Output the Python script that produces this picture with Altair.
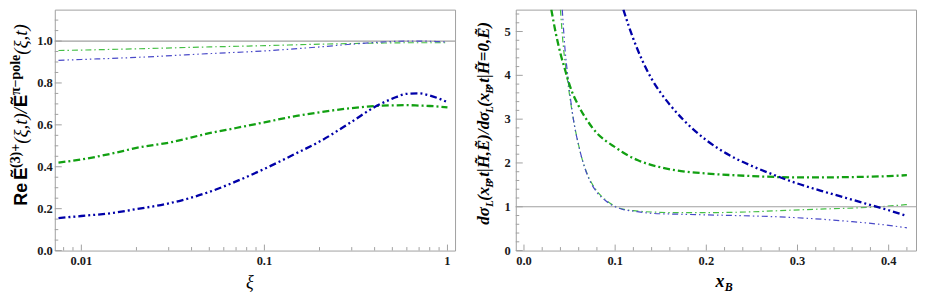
import altair as alt
import pandas as pd

# ---------------- data ----------------
# left panel: Re E^(3)+ / E^pi-pole vs xi (log axis)
xi_thick = [0.0075, 0.01, 0.015, 0.02, 0.03, 0.05, 0.07, 0.1, 0.15, 0.2, 0.3, 0.4, 0.5, 0.6, 0.7, 0.8, 0.9, 1.0]
left_thick_blue = [0.155, 0.165, 0.18, 0.198, 0.225, 0.28, 0.33, 0.39, 0.465, 0.52, 0.615, 0.685, 0.725, 0.748, 0.75, 0.74, 0.725, 0.708]
left_thick_green = [0.42, 0.435, 0.465, 0.49, 0.515, 0.56, 0.585, 0.612, 0.643, 0.66, 0.68, 0.69, 0.693, 0.694, 0.692, 0.69, 0.687, 0.683]
xi_thin = [0.0075, 0.01, 0.02, 0.05, 0.1, 0.2, 0.3, 0.4, 0.5, 0.6, 0.7, 0.8, 0.9, 1.0]
left_thin_blue = [0.908, 0.912, 0.922, 0.94, 0.953, 0.972, 0.985, 0.993, 0.998, 1.0, 1.0, 0.999, 0.997, 0.995]
left_thin_green = [0.955, 0.957, 0.963, 0.972, 0.978, 0.985, 0.988, 0.99, 0.991, 0.992, 0.992, 0.992, 0.992, 0.992]

# right panel: cross-section ratio vs x_B
xb_thick_blue = [0.109, 0.115, 0.12, 0.13, 0.14, 0.15, 0.16, 0.175, 0.2, 0.225, 0.25, 0.275, 0.3, 0.325, 0.35, 0.375, 0.4, 0.42]
right_thick_blue = [5.5, 5.12, 4.83, 4.33, 3.92, 3.6, 3.33, 2.98, 2.52, 2.18, 1.93, 1.72, 1.53, 1.37, 1.22, 1.07, 0.92, 0.79]
xb_thick_green = [0.030, 0.035, 0.04, 0.046, 0.05, 0.06, 0.07, 0.08, 0.09, 0.1, 0.11, 0.125, 0.15, 0.178, 0.2, 0.25, 0.3, 0.325, 0.35, 0.4, 0.42]
right_thick_green = [5.5, 4.95, 4.5, 4.06, 3.78, 3.3, 2.95, 2.68, 2.5, 2.36, 2.22, 2.06, 1.9, 1.8, 1.76, 1.70, 1.67, 1.67, 1.675, 1.7, 1.72]
xb_thin_blue = [0.042, 0.045, 0.048, 0.051, 0.055, 0.06, 0.065, 0.07, 0.08, 0.09, 0.1, 0.11, 0.12, 0.14, 0.17, 0.2, 0.25, 0.29, 0.33, 0.36, 0.39, 0.42]
right_thin_blue = [5.5, 4.6, 4.0, 3.47, 2.9, 2.4, 2.0, 1.7, 1.33, 1.13, 1.0, 0.93, 0.9, 0.85, 0.83, 0.815, 0.79, 0.76, 0.71, 0.66, 0.6, 0.52]
xb_thin_green = [0.040, 0.043, 0.047, 0.05, 0.055, 0.06, 0.065, 0.07, 0.08, 0.09, 0.1, 0.11, 0.12, 0.14, 0.17, 0.2, 0.25, 0.29, 0.33, 0.36, 0.39, 0.42]
right_thin_green = [5.5, 4.7, 4.0, 3.55, 2.9, 2.4, 2.0, 1.72, 1.36, 1.15, 1.01, 0.94, 0.91, 0.88, 0.865, 0.865, 0.885, 0.92, 0.95, 0.97, 1.0, 1.05]

reference_level = [1.0]

# ticks and tick labels
left_y_major = [0.0, 0.2, 0.4, 0.6, 0.8, 1.0]
left_y_labels = ["0.0", "0.2", "0.4", "0.6", "0.8", "1.0"]
left_y_minor = [0.05, 0.1, 0.15, 0.25, 0.3, 0.35, 0.45, 0.5, 0.55, 0.65, 0.7, 0.75, 0.85, 0.9, 0.95, 1.05, 1.1]
left_x_major = [0.01, 0.1, 1.0]
left_x_labels = ["0.01", "0.1", "1"]
left_x_minor = [0.008, 0.009, 0.02, 0.03, 0.04, 0.05, 0.06, 0.07, 0.08, 0.09,
                0.2, 0.3, 0.4, 0.5, 0.6, 0.7, 0.8, 0.9]
right_y_major = [0, 1, 2, 3, 4, 5]
right_y_labels = ["0", "1", "2", "3", "4", "5"]
right_y_minor = [0.2, 0.4, 0.6, 0.8, 1.2, 1.4, 1.6, 1.8, 2.2, 2.4, 2.6, 2.8, 3.2, 3.4, 3.6, 3.8,
                 4.2, 4.4, 4.6, 4.8, 5.2, 5.4]
right_x_major = [0.0, 0.1, 0.2, 0.3, 0.4]
right_x_labels = ["0.0", "0.1", "0.2", "0.3", "0.4"]
right_x_minor = [0.02, 0.04, 0.06, 0.08, 0.12, 0.14, 0.16, 0.18, 0.22, 0.24, 0.26, 0.28,
                 0.32, 0.34, 0.36, 0.38, 0.42]

# ---------------- styling ----------------
W, H = 402, 242
FRAME = "#a0a0a0"
SERIF = "Liberation Serif"
SANS = "Liberation Sans"
STYLE = {
    "thick_blue": dict(color="#0000a8", strokeWidth=2.3, strokeDash=[7, 3, 2, 3, 2, 3]),
    "thick_green": dict(color="#12a012", strokeWidth=2.3, strokeDash=[7, 3, 2, 3]),
    "thin_blue": dict(color="#4a4ac8", strokeWidth=1.2, strokeDash=[6, 3, 1.5, 3, 1.5, 3]),
    "thin_green": dict(color="#46bf46", strokeWidth=1.2, strokeDash=[6, 3, 1.5, 3]),
}

one = alt.Data(values=[{"k": 0}])

# approximate glyph widths (em) for chaining title pieces
WID = {"(": .333, ")": .333, ",": .25, "/": .278, "|": .22, "=": .6, "0": .5, "3": .5, "+": .57,
       "ξ": .46, "t": .28, "x": .444, "d": .5, "σ": .55, "L": .556, "B": .611, "H": .722,
       "E": .611, "Ẽ": .64, "π": .55, "−": .57, "p": .53, "o": .5, "l": .278, "e": .46,
       " ": .25, "R": .722, "\u0303": 0.0}


def tw(text, size):
    return sum(WID.get(c, .5) for c in text) * size


def title_layers(pieces, start, base_x):
    layers = []
    pos = start
    for text, font, size, weight, style, shift in pieces:
        layers.append(
            alt.Chart(one).mark_text(
                text=text, angle=270, align="left", baseline="alphabetic",
                font=font, fontSize=size, fontWeight=weight, fontStyle=style, color="black",
            ).encode(x=alt.value(base_x + shift), y=alt.value(pos))
        )
        pos -= tw(text, size)
    return layers


def curve(xs, ys, key, xscale, yscale):
    df = pd.DataFrame({"x": xs, "y": ys})
    return alt.Chart(df).mark_line(clip=True, interpolate="monotone", strokeCap="butt", **STYLE[key]).encode(
        x=alt.X("x:Q", scale=xscale, axis=None),
        y=alt.Y("y:Q", scale=yscale, axis=None),
    )


def tick_layer(vals, xscale, yscale, which, length):
    df = pd.DataFrame({"v": vals})
    base = alt.Chart(df).mark_rule(color=FRAME, strokeWidth=1)
    if which == "y":
        return base.encode(y=alt.Y("v:Q", scale=yscale, axis=None), x=alt.value(0), x2=alt.value(length))
    return base.encode(x=alt.X("v:Q", scale=xscale, axis=None), y=alt.value(H), y2=alt.value(H - length))


def label_layer(vals, labels, xscale, yscale, which, pad):
    df = pd.DataFrame({"v": vals, "lab": labels})
    if which == "y":
        return alt.Chart(df).mark_text(font=SERIF, fontWeight="bold", fontSize=12.5, color="#1a1a1a",
                                       align="right", baseline="middle").encode(
            y=alt.Y("v:Q", scale=yscale, axis=None), x=alt.value(-pad), text="lab:N")
    return alt.Chart(df).mark_text(font=SERIF, fontWeight="bold", fontSize=12.5, color="#1a1a1a",
                                   align="center", baseline="top").encode(
        x=alt.X("v:Q", scale=xscale, axis=None), y=alt.value(H + pad), text="lab:N")


def ref_line(yscale):
    df = pd.DataFrame({"r": reference_level})
    return alt.Chart(df).mark_rule(color=FRAME, strokeWidth=1.2).encode(
        y=alt.Y("r:Q", scale=yscale, axis=None)
    )


# ---------------- left panel ----------------
lx = alt.Scale(type="log", domain=[0.00716, 1.10], nice=False)
ly = alt.Scale(domain=[0, 1.15], nice=False)

left_layers = [
    curve(xi_thin, left_thin_green, "thin_green", lx, ly),
    ref_line(ly),
    curve(xi_thin, left_thin_blue, "thin_blue", lx, ly),
    curve(xi_thick, left_thick_green, "thick_green", lx, ly),
    curve(xi_thick, left_thick_blue, "thick_blue", lx, ly),
    tick_layer(left_y_major, lx, ly, "y", 7),
    tick_layer(left_y_minor, lx, ly, "y", 3.5),
    tick_layer(left_x_major, lx, ly, "x", 6),
    tick_layer(left_x_minor, lx, ly, "x", 3.5),
    label_layer(left_y_major, left_y_labels, lx, ly, "y", 2),
    label_layer(left_x_major, left_x_labels, lx, ly, "x", 4),
    alt.Chart(one).mark_text(text="ξ", font=SERIF, fontStyle="italic", fontSize=18,
                             baseline="middle", color="black").encode(
        x=alt.value(196), y=alt.value(H + 33)),
]
left_title = [
    ("Re ", SANS, 18, "bold", "normal", 0),
    ("Ẽ", SANS, 19, "bold", "normal", 0),
    ("(3)+", SERIF, 14, "bold", "normal", -7),
    ("(ξ,t)/", SERIF, 19, "normal", "italic", 0),
    ("Ẽ", SANS, 19, "bold", "normal", 0),
    ("π−pole", SERIF, 14, "bold", "normal", -7),
    ("(ξ,t)", SERIF, 19, "normal", "italic", 0),
]
left_layers += title_layers(left_title, 197, -28)
left = alt.layer(*left_layers).properties(width=W, height=H)

# ---------------- right panel ----------------
rx = alt.Scale(domain=[-0.009, 0.43], nice=False)
ry = alt.Scale(domain=[0, 5.5], nice=False)

right_layers = [
    curve(xb_thin_green, right_thin_green, "thin_green", rx, ry),
    ref_line(ry),
    curve(xb_thin_blue, right_thin_blue, "thin_blue", rx, ry),
    curve(xb_thick_green, right_thick_green, "thick_green", rx, ry),
    curve(xb_thick_blue, right_thick_blue, "thick_blue", rx, ry),
    tick_layer(right_y_major, rx, ry, "y", 7),
    tick_layer(right_y_minor, rx, ry, "y", 3.5),
    tick_layer(right_x_major, rx, ry, "x", 6),
    tick_layer(right_x_minor, rx, ry, "x", 3.5),
    label_layer(right_y_major, right_y_labels, rx, ry, "y", 5),
    label_layer(right_x_major, right_x_labels, rx, ry, "x", 4),
    alt.Chart(one).mark_text(text="x", font=SERIF, fontStyle="italic", fontWeight="bold", fontSize=18,
                             baseline="middle", color="black").encode(
        x=alt.value(205), y=alt.value(H + 32)),
    alt.Chart(one).mark_text(text="B", font=SERIF, fontStyle="italic", fontWeight="bold", fontSize=12,
                             baseline="middle", color="black").encode(
        x=alt.value(214), y=alt.value(H + 37)),
]
right_title = [
    ("dσ", SERIF, 17, "bold", "italic", 0),
    ("L", SERIF, 11, "bold", "italic", 4),
    ("(x", SERIF, 17, "bold", "italic", 0),
    ("B", SERIF, 11, "bold", "italic", 4),
    (",t|H\u0303,Ẽ)/dσ", SERIF, 17, "bold", "italic", 0),
    ("L", SERIF, 11, "bold", "italic", 4),
    ("(x", SERIF, 17, "bold", "italic", 0),
    ("B", SERIF, 11, "bold", "italic", 4),
    (",t|H\u0303=0,Ẽ)", SERIF, 17, "bold", "italic", 0),
]
right_layers += title_layers(right_title, 216, -27)
right = alt.layer(*right_layers).properties(width=W, height=H)

chart = alt.hconcat(left, right, spacing=17).properties(padding=0).configure(
    background="white", view=alt.ViewConfig(stroke=FRAME, strokeWidth=1)
)

chart.save("out.html", embed_options={"renderer": "svg", "actions": False})
